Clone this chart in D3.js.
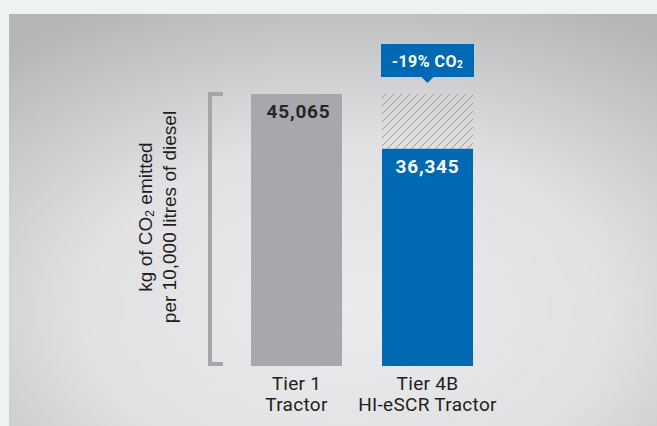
<!DOCTYPE html>
<html>
<head>
<meta charset="utf-8">
<script src="https://cdn.jsdelivr.net/npm/d3@7/dist/d3.min.js"></script>
<style>
  html, body { margin: 0; padding: 0; background: #edf3f3; }
  svg { display: block; }
</style>
</head>
<body>
<script>
// ---- data ----
const categories = ["Tier 1 Tractor", "Tier 4B HI-eSCR Tractor"];
const categoryLines = [["Tier 1", "Tractor"], ["Tier 4B", "HI-eSCR Tractor"]];
const values = [45065, 36345];
const valueLabels = ["45,065", "36,345"];
const reductionLabel = ["-19% CO", "2"];
const yTitleLines = [["kg of CO", "2", " emitted"], ["per 10,000 litres of diesel"]];

// ---- layout ----
const W = 657, H = 426;
const svg = d3.select("body").append("svg").attr("width", W).attr("height", H);
const defs = svg.append("defs");

const grad = defs.append("radialGradient").attr("id", "bg")
  .attr("cx", "52%").attr("cy", "72%").attr("r", "82%");
grad.append("stop").attr("offset", "0").attr("stop-color", "#ebebed");
grad.append("stop").attr("offset", "0.5").attr("stop-color", "#e1e1e3");
grad.append("stop").attr("offset", "1").attr("stop-color", "#b6b5b7");

const pat = defs.append("pattern").attr("id", "hatch")
  .attr("patternUnits", "userSpaceOnUse").attr("width", 8).attr("height", 8);
pat.append("path").attr("d", "M-2,2 L2,-2 M0,8 L8,0 M6,10 L10,6")
  .attr("stroke", "#9c9c9e").attr("stroke-width", 1);

svg.append("rect").attr("x", 9).attr("y", 14).attr("width", W - 9).attr("height", H - 14)
  .attr("fill", "url(#bg)");

const plotBottom = 366;
const x = d3.scaleBand().domain(categories).range([231, 493])
  .paddingInner(0.3053).paddingOuter(0.1527);
const y = d3.scaleLinear().domain([0, d3.max(values)]).range([377, 94]);

const grey = "#a7a8ab", blue = "#0069b4";

// bracket
const bTop = y(d3.max(values));
svg.append("path")
  .attr("d", `M223,${bTop} H210 V${plotBottom - 2} H223`)
  .attr("fill", "none").attr("stroke", "#a6a6aa").attr("stroke-width", 4);

// hatched reduction area
svg.append("rect")
  .attr("x", x(categories[1])).attr("width", x.bandwidth())
  .attr("y", y(values[0])).attr("height", y(values[1]) - y(values[0]))
  .attr("fill", "url(#hatch)");

// bars
svg.selectAll("rect.bar").data(values).enter().append("rect")
  .attr("class", "bar")
  .attr("x", (d, i) => x(categories[i]))
  .attr("width", x.bandwidth())
  .attr("y", d => y(d))
  .attr("height", d => plotBottom - y(d))
  .attr("fill", (d, i) => i === 0 ? grey : blue);

// value labels
svg.selectAll("text.val").data(values).enter().append("text")
  .attr("class", "val")
  .attr("x", (d, i) => x(categories[i]) + x.bandwidth() / 2 + (i === 0 ? 2 : 0))
  .attr("y", d => y(d) + 24)
  .attr("text-anchor", "middle")
  .attr("font-family", "Roboto, sans-serif").attr("font-weight", 700)
  .attr("font-size", 19).attr("letter-spacing", 0.8)
  .attr("fill", (d, i) => i === 0 ? "#262626" : "#ffffff")
  .text((d, i) => valueLabels[i]);

// callout
const cx = x(categories[1]) + x.bandwidth() / 2;
const boxBottom = y(values[0]) - 17;
svg.append("path")
  .attr("d", `M${x(categories[1]) - 1},${boxBottom - 33} H${x(categories[1]) + x.bandwidth() + 1} V${boxBottom} H${cx + 6} L${cx},${boxBottom + 6} L${cx - 6},${boxBottom} H${x(categories[1]) - 1} Z`)
  .attr("fill", blue);
const ct = svg.append("text")
  .attr("x", cx).attr("y", boxBottom - 10)
  .attr("text-anchor", "middle")
  .attr("font-family", "Roboto, sans-serif").attr("font-weight", 700)
  .attr("font-size", 16).attr("letter-spacing", 0.5)
  .attr("fill", "#ffffff");
ct.append("tspan").text(reductionLabel[0]);
ct.append("tspan").attr("font-size", 10).attr("dy", 1).text(reductionLabel[1]);

// category labels
categoryLines.forEach((lines, i) => {
  const t = svg.append("text")
    .attr("x", x(categories[i]) + x.bandwidth() / 2)
    .attr("y", plotBottom + 24)
    .attr("text-anchor", "middle")
    .attr("font-family", "Roboto, sans-serif").attr("font-weight", 400)
    .attr("font-size", 19).attr("letter-spacing", 0.3).attr("fill", "#231f20");
  lines.forEach((ln, j) => {
    t.append("tspan").attr("x", x(categories[i]) + x.bandwidth() / 2)
      .attr("dy", j === 0 ? 0 : 21).text(ln);
  });
});

// y-axis title (rotated)
const ty = 217;
yTitleLines.forEach((parts, j) => {
  const t = svg.append("text")
    .attr("transform", `translate(${152 + j * 24},${ty}) rotate(-90)`)
    .attr("text-anchor", "middle")
    .attr("font-family", "'Liberation Sans', Arial, sans-serif")
    .attr("font-size", 19).attr("fill", "#1e1e1e");
  parts.forEach((p, k) => {
    const s = t.append("tspan").text(p);
    if (parts.length > 1 && k === 1) s.attr("font-size", 12).attr("dy", 2);
    if (parts.length > 1 && k === 2) s.attr("dy", -2);
  });
});
</script>
</body>
</html>
